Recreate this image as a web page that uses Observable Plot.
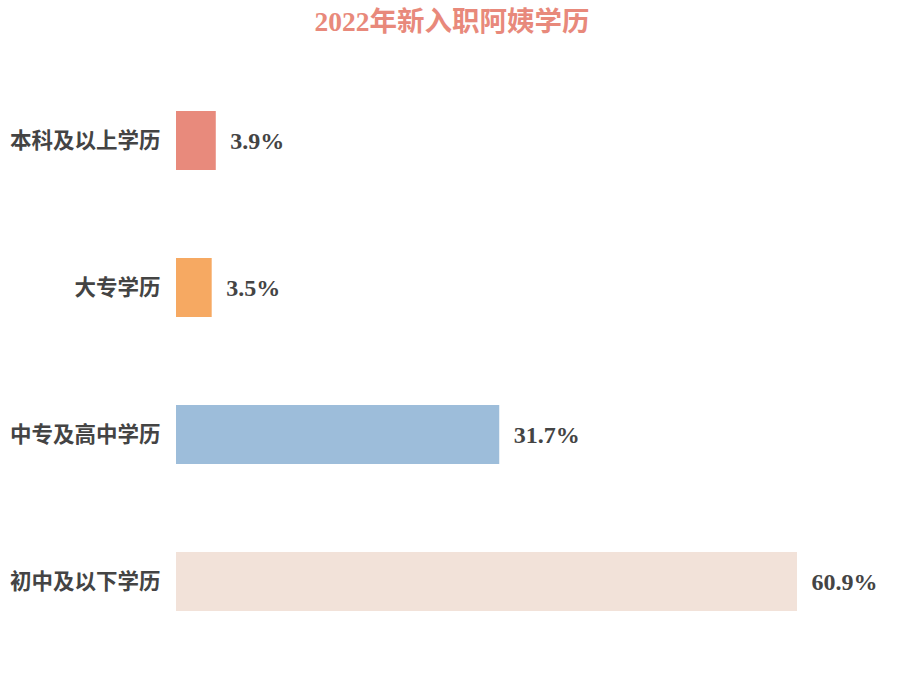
<!DOCTYPE html>
<html><head><meta charset="utf-8">
<script src="https://cdn.jsdelivr.net/npm/d3@7"></script>
<script src="https://cdn.jsdelivr.net/npm/@observablehq/plot@0.6"></script>
<style>
body{margin:0;background:#fff;}
#title{height:44px;line-height:44px;text-align:center;font-family:"Liberation Serif","Noto Sans CJK SC",serif;font-weight:bold;font-size:27.5px;color:#e8897b;width:904px;}
</style></head>
<body>
<div id="title">2022年新入职阿姨学历</div>
<div id="chart"></div>
<script>
const categories = ["本科及以上学历","大专学历","中专及高中学历","初中及以下学历"];
const values = [3.9, 3.5, 31.7, 60.9];
const colors = ["#e88a7c","#f6a962","#9dbdda","#f2e2d9"];
const data = categories.map((c,i)=>({cat:c, value:values[i]}));
const chart = Plot.plot({
  width: 904, height: 636,
  marginLeft: 176, marginRight: 107, marginTop: 0, marginBottom: 0,
  x: {domain:[0, d3.max(values)], axis:null},
  y: {domain: categories, range:[21.4, 612.6], paddingInner:0.6, paddingOuter:0.3},
  color: {domain: categories, range: colors},
  style: {fontFamily:'"Liberation Serif","Noto Sans CJK SC",serif', color:"#444"},
  marks: [
    Plot.barX(data, {x:"value", y:"cat", fill:"cat"}),
    Plot.axisY({tickSize:0, tickPadding:16, fontSize:21.5, fontWeight:"bold", fill:"#444", label:null,
      fontFamily:'"Noto Sans CJK SC",sans-serif'}),
    Plot.text(data, {x:"value", y:"cat", text:d=>d.value.toFixed(1)+"%", textAnchor:"start", dx:14,
      fontSize:24, fontWeight:"bold", fill:"#444"})
  ]
});
document.getElementById("chart").appendChild(chart);
</script>
</body></html>
